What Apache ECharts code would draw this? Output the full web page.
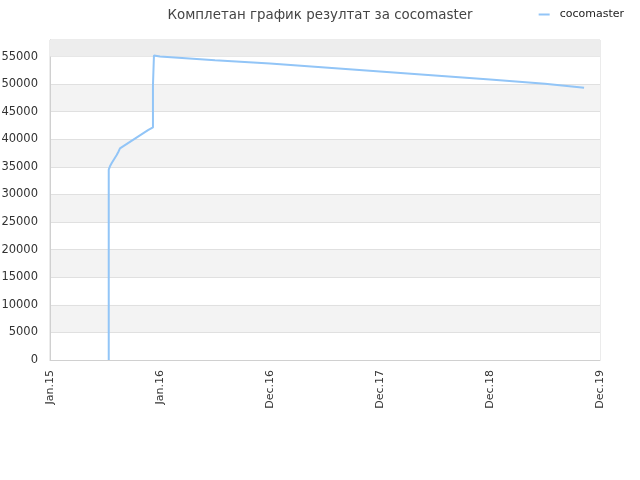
<!DOCTYPE html>
<html>
<head>
<meta charset="utf-8">
<script src="https://cdn.jsdelivr.net/npm/echarts@6/dist/echarts.min.js"></script>
<style>html,body{margin:0;padding:0;background:#fff}#c{width:640px;height:480px}</style>
</head>
<body>
<div id="c"></div>
<script>
const titleText = "Комплетан график резултат за cocomaster";
const seriesName = "cocomaster";
const xTickLabels = ["Jan.15", "Jan.16", "Dec.16", "Dec.17", "Dec.18", "Dec.19"];
// x positions in tick units (0 = Jan.15, 5 = Dec.19)
const xPos = [0.534, 0.534, 0.534, 0.545, 0.564, 0.605, 0.621, 0.636, 0.891, 0.936, 0.936, 0.945, 0.955, 1.0, 1.5, 2.0, 2.5, 3.0, 3.5, 4.0, 4.5, 4.855];
const yVals = [0, 16000, 34500, 35100, 35800, 37100, 37700, 38350, 41650, 42150, 49750, 55180, 55250, 55000, 54350, 53730, 53000, 52290, 51560, 50840, 50050, 49350];

const chart = echarts.init(document.getElementById('c'));
chart.setOption({
  animation: false,
  textStyle: { fontFamily: 'DejaVu Sans' },
  title: {
    text: titleText, left: 'center', top: 4,
    textStyle: { fontSize: 13.4, fontWeight: 'normal', color: '#444', fontFamily: 'DejaVu Sans' }
  },
  legend: {
    data: [seriesName], right: 11, top: 4, itemWidth: 11, itemHeight: 2, itemGap: 6,
    textStyle: { fontSize: 11, color: '#222', padding: [0, 0, 0, 5] }, icon: 'rect'
  },
  grid: { left: 50, right: 40, top: 40, bottom: 120, containLabel: false, outerBoundsMode: 'none', show: true, borderColor: '#d8d8d8', borderWidth: 1, backgroundColor: 'transparent' },
  xAxis: {
    type: 'value', min: 0, max: 5, interval: 1,
    axisLine: { show: true, lineStyle: { color: '#d0d0d0' } },
    axisTick: { show: false },
    splitLine: { show: false },
    axisLabel: { rotate: 90, fontSize: 11, color: '#333', margin: 10,
      formatter: v => xTickLabels[Math.round(v)] || '' }
  },
  yAxis: {
    type: 'value', min: 0, max: 58000, interval: 5000,
    axisLine: { show: true, lineStyle: { color: '#d0d0d0' } },
    axisTick: { show: false },
    axisLabel: { fontSize: 11.5, color: '#333', margin: 12, showMaxLabel: false, formatter: v => String(v) },
    splitLine: { show: true, lineStyle: { color: '#e0e0e0' } },
    splitArea: { show: true, areaStyle: { color: ['#ffffff', '#f3f3f3'] } }
  },
  series: [{
    name: seriesName, type: 'line', showSymbol: false,
    data: xPos.map((x, i) => [x, yVals[i]]),
    lineStyle: { color: '#92c5f7', width: 2 },
    itemStyle: { color: '#92c5f7' },
    markArea: { silent: true, itemStyle: { color: '#ededed' }, data: [[{ yAxis: 55000 }, { yAxis: 58000 }]] }
  }]
});
</script>
</body>
</html>
